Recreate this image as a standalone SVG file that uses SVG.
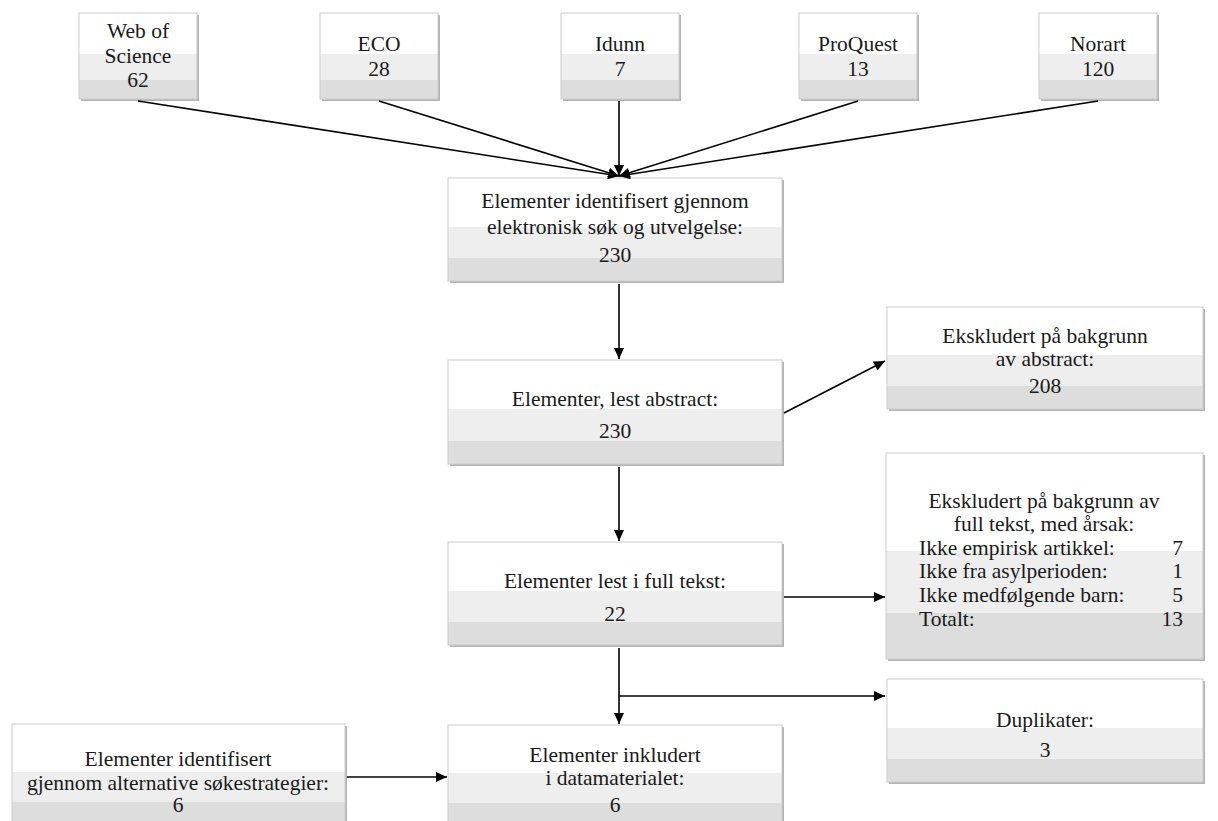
<svg xmlns="http://www.w3.org/2000/svg" width="1218" height="821" viewBox="0 0 1218 821">
<style>
.sh{fill:#b4b4b4}
.bx{fill:url(#band);stroke:#cccccc;stroke-width:1}
text{font-family:"Liberation Serif","Times New Roman",serif;font-size:21.5px;fill:#1a1a1a}
.c{text-anchor:middle}
.r{text-anchor:end}
.ln{stroke:#000;stroke-width:1.6;fill:none;marker-end:url(#ah)}
</style>
<defs>
<linearGradient id="band" x1="0" y1="0" x2="0" y2="1">
<stop offset="0" stop-color="#ffffff"/>
<stop offset="0.475" stop-color="#ffffff"/>
<stop offset="0.475" stop-color="#eeeeee"/>
<stop offset="0.775" stop-color="#eeeeee"/>
<stop offset="0.775" stop-color="#dddddd"/>
<stop offset="1" stop-color="#dddddd"/>
</linearGradient>
<marker id="ah" markerUnits="userSpaceOnUse" markerWidth="11" markerHeight="10" refX="11" refY="5" orient="auto">
<path d="M0,0 L11,5 L0,10 z" fill="#000"/>
</marker>
</defs>
<rect width="1218" height="821" fill="#ffffff"/>

<g id="n-wos">
<rect class="sh" x="81" y="15" width="118" height="86"/>
<rect class="bx" x="79" y="13" width="118" height="86"/>
<text class="c" x="138" y="38">Web of</text>
<text class="c" x="138" y="63">Science</text>
<text class="c" x="138" y="87">62</text>
</g>
<g id="n-eco">
<rect class="sh" x="322" y="15" width="118" height="86"/>
<rect class="bx" x="320" y="13" width="118" height="86"/>
<text class="c" x="379" y="51">ECO</text>
<text class="c" x="379" y="76">28</text>
</g>
<g id="n-idunn">
<rect class="sh" x="563" y="15" width="118" height="86"/>
<rect class="bx" x="561" y="13" width="118" height="86"/>
<text class="c" x="620" y="51">Idunn</text>
<text class="c" x="620" y="76">7</text>
</g>
<g id="n-proquest">
<rect class="sh" x="801" y="15" width="118" height="86"/>
<rect class="bx" x="799" y="13" width="118" height="86"/>
<text class="c" x="858" y="51">ProQuest</text>
<text class="c" x="858" y="76">13</text>
</g>
<g id="n-norart">
<rect class="sh" x="1041" y="15" width="118" height="86"/>
<rect class="bx" x="1039" y="13" width="118" height="86"/>
<text class="c" x="1098" y="51">Norart</text>
<text class="c" x="1098" y="76">120</text>
</g>

<g id="n-identified">
<rect class="sh" x="450" y="180" width="334" height="103"/>
<rect class="bx" x="448" y="178" width="334" height="103"/>
<text class="c" x="615" y="208">Elementer identifisert gjennom</text>
<text class="c" x="615" y="234">elektronisk søk og utvelgelse:</text>
<text class="c" x="615" y="262">230</text>
</g>
<g id="n-abstract">
<rect class="sh" x="450" y="362" width="334" height="104"/>
<rect class="bx" x="448" y="360" width="334" height="104"/>
<text class="c" x="615" y="406">Elementer, lest abstract:</text>
<text class="c" x="615" y="438">230</text>
</g>
<g id="n-fulltext">
<rect class="sh" x="450" y="544" width="334" height="103"/>
<rect class="bx" x="448" y="542" width="334" height="103"/>
<text class="c" x="615" y="588">Elementer lest i full tekst:</text>
<text class="c" x="615" y="621">22</text>
</g>
<g id="n-included">
<rect class="sh" x="450" y="727" width="334" height="101"/>
<rect class="bx" x="448" y="725" width="334" height="101"/>
<text class="c" x="615" y="762">Elementer inkludert</text>
<text class="c" x="615" y="785">i datamaterialet:</text>
<text class="c" x="615" y="812">6</text>
</g>
<g id="n-alternative">
<rect class="sh" x="14" y="726" width="333" height="101"/>
<rect class="bx" x="12" y="724" width="333" height="101"/>
<text class="c" x="178" y="766">Elementer identifisert</text>
<text class="c" x="178" y="790">gjennom alternative søkestrategier:</text>
<text class="c" x="178" y="812">6</text>
</g>
<g id="n-excl-abstract">
<rect class="sh" x="889" y="309" width="316" height="102"/>
<rect class="bx" x="887" y="307" width="316" height="102"/>
<text class="c" x="1045" y="343">Ekskludert på bakgrunn</text>
<text class="c" x="1045" y="366">av abstract:</text>
<text class="c" x="1045" y="393">208</text>
</g>
<g id="n-excl-fulltext">
<rect class="sh" x="888" y="455" width="317" height="206"/>
<rect class="bx" x="886" y="453" width="317" height="206"/>
<text class="c" x="1044" y="508">Ekskludert på bakgrunn av</text>
<text class="c" x="1044" y="531">full tekst, med årsak:</text>
<text x="919" y="555">Ikke empirisk artikkel:</text>
<text class="r" x="1183" y="555">7</text>
<text x="919" y="578">Ikke fra asylperioden:</text>
<text class="r" x="1183" y="578">1</text>
<text x="919" y="602">Ikke medfølgende barn:</text>
<text class="r" x="1183" y="602">5</text>
<text x="919" y="626">Totalt:</text>
<text class="r" x="1183" y="626">13</text>
</g>
<g id="n-duplicates">
<rect class="sh" x="889" y="681" width="316" height="103"/>
<rect class="bx" x="887" y="679" width="316" height="103"/>
<text class="c" x="1045" y="727">Duplikater:</text>
<text class="c" x="1045" y="757">3</text>
</g>

<g id="connectors">
<line class="ln" x1="138" y1="101" x2="619" y2="176"/>
<line class="ln" x1="379" y1="101" x2="619" y2="176"/>
<line class="ln" x1="619" y1="101" x2="619" y2="176"/>
<line class="ln" x1="858" y1="101" x2="619" y2="176"/>
<line class="ln" x1="1098" y1="101" x2="619" y2="176"/>
<line class="ln" x1="619" y1="284" x2="619" y2="359"/>
<line class="ln" x1="784" y1="413" x2="885" y2="361"/>
<line class="ln" x1="619" y1="467" x2="619" y2="541"/>
<line class="ln" x1="784" y1="597" x2="885" y2="597"/>
<line class="ln" x1="619" y1="648" x2="619" y2="724"/>
<line class="ln" x1="619" y1="696" x2="885" y2="696"/>
<line class="ln" x1="347" y1="777" x2="447" y2="777"/>
</g>
</svg>
